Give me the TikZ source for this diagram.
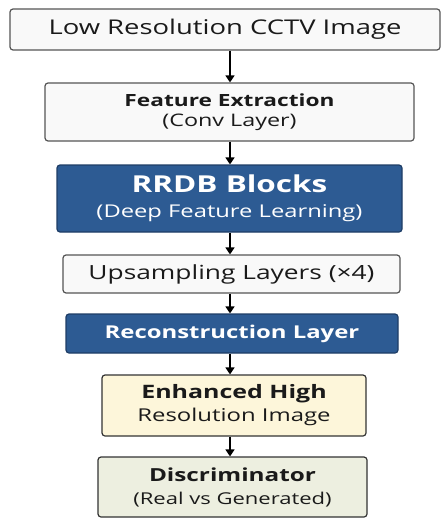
\documentclass[tikz,border=0pt]{standalone}
\usepackage{fontspec}
\setmainfont{Open Sans}[FakeStretch=1.35]
\usetikzlibrary{arrows.meta}
\definecolor{bluefill}{HTML}{2D5B93}
\definecolor{blueedge}{HTML}{1E3D66}
\definecolor{whitefill}{HTML}{F9F9F9}
\definecolor{greyedge}{HTML}{555555}
\definecolor{creamfill}{HTML}{FDF6DA}
\definecolor{greenfill}{HTML}{EDEFE0}
\definecolor{darkedge}{HTML}{333333}
\definecolor{textdark}{HTML}{1A1A1A}
\tikzset{
  boxbase/.style={rectangle, rounded corners=3pt, line width=1.2pt, align=center, inner sep=0pt, text=textdark},
  lightbox/.style={boxbase, draw=greyedge, fill=whitefill},
  bluebox/.style={boxbase, draw=blueedge, fill=bluefill, text=white},
  creambox/.style={boxbase, draw=darkedge, fill=creamfill},
  greenbox/.style={boxbase, draw=darkedge, fill=greenfill},
  arr/.style={line width=1.6pt, draw=black, -{Triangle[length=7pt,width=9pt]}}
}
\begin{document}
\begin{tikzpicture}[x=1pt,y=-1pt]
\useasboundingbox (0,0) rectangle (442,519);
\node[lightbox, minimum width=430pt, minimum height=41pt, font=\fontsize{20.3}{24}\selectfont] (b1) at (225,29.5)
  {Low Resolution CCTV Image};
\node[lightbox, minimum width=369pt, minimum height=58pt, font=\fontsize{16.8}{19.5}\selectfont] (b2) at (229.5,112)
  {{\bfseries Feature Extraction}\\{\fontsize{17.3}{19.5}\selectfont (Conv Layer)}};
\node[bluebox, minimum width=345pt, minimum height=67pt, font=\fontsize{23.3}{24.5}\selectfont] (b3) at (229.5,198.5)
  {{\bfseries RRDB Blocks}\\{\fontsize{17.6}{24.5}\selectfont (Deep Feature Learning)}};
\node[lightbox, minimum width=337pt, minimum height=38pt, font=\fontsize{19.5}{22}\selectfont] (b4) at (231.5,274)
  {Upsampling Layers (×4)};
\node[bluebox, minimum width=332pt, minimum height=39pt, font=\fontsize{17.7}{20}\selectfont] (b5) at (232,333.5)
  {\bfseries Reconstruction Layer};
\node[creambox, minimum width=264pt, minimum height=61pt, font=\fontsize{18.5}{23}\selectfont] (b6) at (234,405.5)
  {{\bfseries Enhanced High}\\{\fontsize{17.7}{23}\selectfont Resolution Image}};
\node[greenbox, minimum width=269pt, minimum height=60pt, font=\fontsize{18}{23}\selectfont] (b7) at (232.5,487)
  {{\bfseries Discriminator}\\{\fontsize{16.3}{23}\selectfont (Real vs Generated)}};
\coordinate (ax) at (230,0);
\draw[arr] (b1.south -| ax) -- (b2.north -| ax);
\draw[arr] (b2.south -| ax) -- (b3.north -| ax);
\draw[arr] (b3.south -| ax) -- (b4.north -| ax);
\draw[arr] (b4.south -| ax) -- (b5.north -| ax);
\draw[arr] (b5.south -| ax) -- (b6.north -| ax);
\draw[arr] (b6.south -| ax) -- (b7.north -| ax);
\end{tikzpicture}
\end{document}
